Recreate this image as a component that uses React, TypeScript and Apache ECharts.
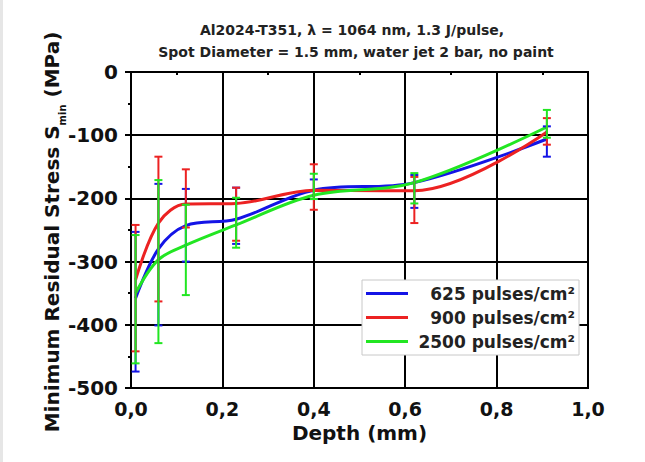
import React, { useEffect, useRef } from 'react';
import * as echarts from 'echarts';

const FONT = '"DejaVu Sans", "Liberation Sans", sans-serif';

// Depth positions (mm)
const depth = [0.01, 0.06, 0.12, 0.23, 0.4, 0.62, 0.91];

// Minimum residual stress (MPa), curve values
const s625 = [-358, -280, -243, -233, -187, -175, -106];
const s900 = [-329, -239, -209, -208, -187, -188, -95];
const s2500 = [-350, -297, -274, -242, -195, -175, -87];

// Error bar limits
const lo625 = [-474, -401, -300, -272, -201, -215, -134];
const hi625 = [-253, -177, -185, -183, -170, -163, -86];
const lo900 = [-442, -363, -246, -267, -218, -239, -115];
const hi900 = [-242, -134, -154, -183, -146, -166, -73];
const lo2500 = [-461, -429, -353, -278, -201, -208, -104];
const hi2500 = [-258, -171, -210, -199, -161, -160, -60];

const names = ['625 pulses/cm²', '900 pulses/cm²', '2500 pulses/cm²'];
const colors = ['#1414e6', '#ec2222', '#22e622'];

const titleLine1 = 'Al2024-T351, λ = 1064 nm, 1.3 J/pulse,';
const titleLine2 = 'Spot Diameter = 1.5 mm, water jet 2 bar, no paint';

function errRender(color: string) {
  return (params: any, api: any) => {
    const x = api.value(0);
    const lo = api.coord([x, api.value(1)]);
    const hi = api.coord([x, api.value(2)]);
    const hw = 4;
    const style = { stroke: color, lineWidth: 2 };
    return {
      type: 'group',
      children: [
        { type: 'line', shape: { x1: lo[0], y1: lo[1], x2: hi[0], y2: hi[1] }, style },
        { type: 'line', shape: { x1: lo[0] - hw, y1: lo[1], x2: lo[0] + hw, y2: lo[1] }, style },
        { type: 'line', shape: { x1: hi[0] - hw, y1: hi[1], x2: hi[0] + hw, y2: hi[1] }, style },
      ],
    };
  };
}

export default function App() {
  const ref = useRef<HTMLDivElement>(null);
  useEffect(() => {
    if (!ref.current) return;
    const chart = echarts.init(ref.current, undefined, { renderer: 'svg' });
    const lineSets = [s625, s900, s2500];
    const errSets = [
      [lo625, hi625],
      [lo900, hi900],
      [lo2500, hi2500],
    ];
    const series: any[] = [];
    lineSets.forEach((vals, k) => {
      series.push({
        type: 'line',
        name: names[k],
        data: depth.map((d, i) => [d, vals[i]]),
        smooth: 0.35,
        symbol: 'none',
        lineStyle: { color: colors[k], width: 3 },
        itemStyle: { color: colors[k] },
        z: 3,
      });
    });
    errSets.forEach((e, k) => {
      series.push({
        type: 'custom',
        name: 'err' + k,
        data: depth.map((d, i) => [d, e[0][i], e[1][i]]),
        encode: { x: 0, y: [1, 2] },
        renderItem: errRender(colors[k]),
        silent: true,
        z: 4,
      });
    });
    chart.setOption({
      animation: false,
      backgroundColor: '#fff',
      textStyle: { fontFamily: FONT },
      grid: {
        left: 131,
        right: 57,
        top: 72,
        bottom: 74,
        show: true,
        borderColor: '#000',
        borderWidth: 2,
      },
      xAxis: {
        type: 'value',
        min: 0,
        max: 1,
        interval: 0.2,
        name: 'Depth (mm)',
        nameLocation: 'middle',
        nameGap: 34,
        nameTextStyle: { fontSize: 20, fontWeight: 'bold', color: '#111', fontFamily: FONT },
        axisLine: { lineStyle: { color: '#000', width: 2 } },
        axisTick: { show: true, length: 6, lineStyle: { color: '#000', width: 2 } },
        minorTick: { show: true, splitNumber: 2, length: 3, lineStyle: { color: '#000', width: 2 } },
        splitLine: { show: true, lineStyle: { color: '#000', width: 2 } },
        axisLabel: {
          margin: 11,
          fontSize: 19,
          fontWeight: 'bold',
          color: '#111',
          fontFamily: FONT,
          formatter: (v: number) => v.toFixed(1).replace('.', ','),
        },
      },
      yAxis: {
        type: 'value',
        min: -500,
        max: 0,
        interval: 100,
        axisLine: { show: true, lineStyle: { color: '#000', width: 2 } },
        axisTick: { show: true, length: 6, lineStyle: { color: '#000', width: 2 } },
        minorTick: { show: true, splitNumber: 2, length: 3, lineStyle: { color: '#000', width: 2 } },
        splitLine: { show: true, lineStyle: { color: '#000', width: 2 } },
        axisLabel: {
          margin: 13,
          fontSize: 20,
          fontWeight: 'bold',
          color: '#111',
          fontFamily: FONT,
        },
      },
      legend: {
        data: names,
        orient: 'vertical',
        left: 362,
        top: 280,
        icon: 'rect',
        itemWidth: 42,
        itemHeight: 3,
        itemGap: 7,
        padding: [5, 4, 5, 4],
        borderColor: '#c8c8c8',
        borderWidth: 1,
        backgroundColor: '#fff',
        selectedMode: false,
        formatter: (n: string) => `{a|${n}}`,
        textStyle: {
          rich: {
            a: {
              width: 162,
              align: 'right',
              fontSize: 17,
              fontWeight: 'bold',
              fontFamily: FONT,
              lineHeight: 20,
              color: '#222',
            },
          },
        },
      },
      graphic: [
        { type: 'rect', left: 0, top: 0, shape: { width: 3, height: 462 }, style: { fill: '#e6e6e6' }, silent: true },
        {
          type: 'text',
          x: 352,
          y: 30,
          style: {
            text: titleLine1,
            font: `bold 14px ${FONT}`,
            fill: '#222',
            align: 'center',
            verticalAlign: 'middle',
          },
        },
        {
          type: 'text',
          x: 356,
          y: 52,
          style: {
            text: titleLine2,
            font: `bold 14px ${FONT}`,
            fill: '#222',
            align: 'center',
            verticalAlign: 'middle',
          },
        },
        {
          type: 'text',
          x: 52,
          y: 232,
          rotation: Math.PI / 2,
          style: {
            text: '{n|Minimum Residual Stress S}{s|min}{n| (MPa)}',
            align: 'center',
            verticalAlign: 'middle',
            fill: '#111',
            rich: {
              n: { fontSize: 20, fontWeight: 'bold', fontFamily: FONT, lineHeight: 30, verticalAlign: 'middle' },
              s: { fontSize: 10, fontWeight: 'bold', fontFamily: FONT, lineHeight: 14, verticalAlign: 'bottom' },
            },
          },
        },
      ],
      series,
    });
    return () => chart.dispose();
  }, []);
  return <div ref={ref} style={{ position: 'fixed', left: 0, top: 0, width: 645, height: 462 }} />;
}
